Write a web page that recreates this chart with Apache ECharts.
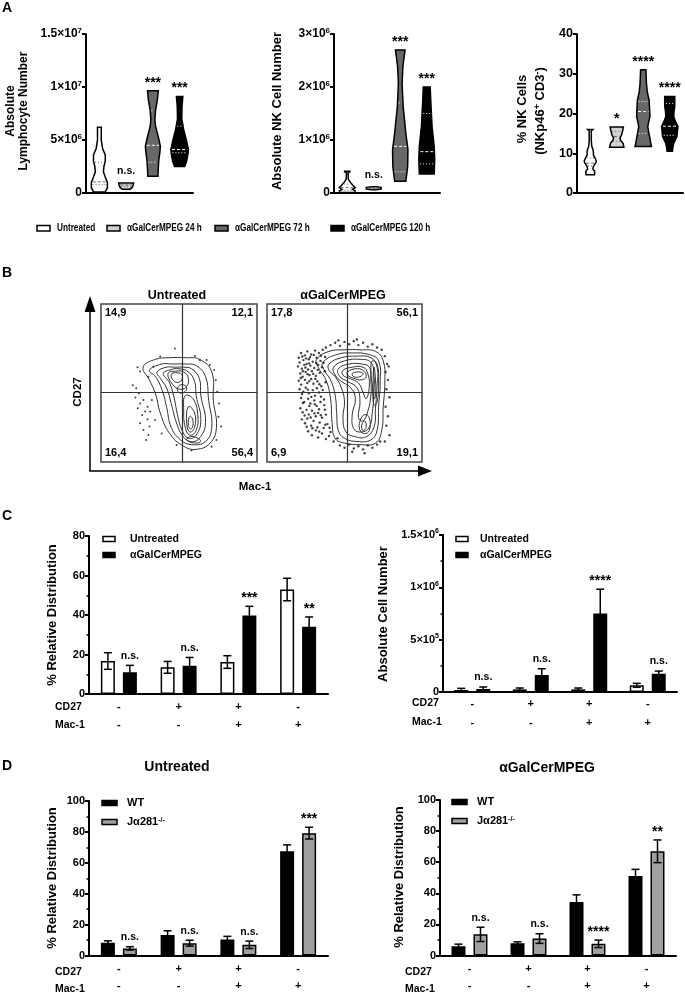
<!DOCTYPE html>
<html><head><meta charset="utf-8">
<script src="https://cdn.jsdelivr.net/npm/echarts@6/dist/echarts.min.js"></script>
<style>html,body{margin:0;padding:0;background:#fff}#c{width:685px;height:994px}</style>
</head><body><div id="c"></div>
<script>
const FONT = "'Liberation Sans', Arial, sans-serif";

// ================= DATA =================
// ---- Panel A (violins): profile = [value, half-width as fraction of category band]
const groupsA = ['Untreated', 'αGalCerMPEG 24 h', 'αGalCerMPEG 72 h', 'αGalCerMPEG 120 h'];
const lymphProfiles = [
  [[0.1e6,0.22],[0.5e6,0.3],[1.0e6,0.3],[1.5e6,0.22],[2.0e6,0.15],[2.5e6,0.17],[3.0e6,0.22],[3.6e6,0.22],[4.2e6,0.12],[5.0e6,0.07],[6.2e6,0.07]],
  [[0.35e6,0.14],[0.5e6,0.22],[0.7e6,0.26],[0.95e6,0.28]],
  [[1.57e6,0.19],[2.2e6,0.2],[3.1e6,0.22],[3.8e6,0.26],[4.4e6,0.28],[5.0e6,0.23],[5.6e6,0.17],[6.3e6,0.1],[6.9e6,0.075],[7.8e6,0.1],[8.8e6,0.17],[9.65e6,0.2]],
  [[2.5e6,0.19],[3.0e6,0.26],[3.5e6,0.3],[4.1e6,0.33],[5.0e6,0.25],[6.0e6,0.15],[7.0e6,0.08],[8.2e6,0.09],[9.1e6,0.12]]
];
const lymphQuart = [[0.8e6,1.05e6,2.9e6],[0.6e6,0.75e6,0.85e6],[2.9e6,4.5e6,7.8e6],[3.8e6,4.1e6,6.3e6]];
const sigLymph = ['', 'n.s.', '***', '***'];

const nkProfiles = [
  [[0.01e6,0.28],[0.04e6,0.3],[0.07e6,0.2],[0.1e6,0.3],[0.14e6,0.22],[0.2e6,0.12],[0.26e6,0.04],[0.38e6,0.03],[0.40e6,0.1],[0.41e6,0.1]],
  [[0.06e6,0.08],[0.075e6,0.28],[0.105e6,0.28],[0.12e6,0.08]],
  [[0.22e6,0.21],[0.5e6,0.28],[0.82e6,0.29],[1.13e6,0.21],[1.63e6,0.11],[2.07e6,0.07],[2.39e6,0.1],[2.7e6,0.18]],
  [[0.36e6,0.28],[0.63e6,0.3],[0.88e6,0.28],[1.26e6,0.2],[1.76e6,0.15],[2.0e6,0.13]]
];
const nkQuart = [[0.05e6,0.1e6,0.17e6],[0.08e6,0.09e6,0.1e6],[0.4e6,0.88e6,1.7e6],[0.55e6,0.78e6,1.5e6]];
const sigNK = ['', 'n.s.', '***', '***'];

const pctProfiles = [
  [[4.6,0.16],[5.4,0.17],[6.0,0.1],[6.7,0.12],[7.5,0.2],[8.0,0.23],[8.8,0.18],[9.5,0.12],[10.3,0.12],[11,0.1],[11.7,0.06],[13,0.04],[15.6,0.04],[16,0.1]],
  [[11.5,0.27],[12.5,0.24],[13.2,0.15],[13.8,0.12],[14.6,0.18],[15.6,0.22],[16.6,0.25]],
  [[11.7,0.31],[13,0.27],[14.2,0.24],[15.5,0.2],[16.7,0.17],[18,0.21],[19.2,0.25],[21,0.24],[23.4,0.22],[25.5,0.15],[27.6,0.12],[31,0.1]],
  [[10.5,0.1],[11.5,0.12],[12.5,0.15],[14.2,0.27],[16.7,0.31],[18,0.22],[19.2,0.15],[20.5,0.16],[21.8,0.19],[24.3,0.19]]
];
const pctQuart = [[6.8,7.5,8.8],[13,14.2,15.5],[15,20.5,23],[14.5,16.8,22.5]];
const sigPct = ['', '*', '****', '****'];

// ---- Panel B (flow cytometry, % of plot range) ----
const quadUnt = ['14,9', '12,1', '16,4', '56,4'];
const quadGal = ['17,8', '56,1', '6,9', '19,1'];
const gateB = [52, 44];
const contoursUnt = [
  [[27,60],[35,65],[44,66],[54,66],[63,65],[71,57],[72,39],[74,22],[70,12],[61,8],[53,10],[44,18],[38,31],[35,43],[31,52]],
  [[31,58],[39,62],[46,62],[55,62],[61,61],[67,54],[69,39],[71,22],[67,13],[58,11],[51,14],[45,22],[42,35],[39,46],[35,54]],
  [[36,57],[42,60],[47,60],[53,60],[58,59],[63,53],[64,42],[67,25],[63,15],[57,13],[52,17],[48,26],[45,37],[42,47],[38,53]],
  [[40,56],[45,58.5],[50,59],[56,57],[60,51],[61,42],[64,27],[61,17],[56,15],[52,20],[49,30],[47,40],[44,50]],
  [[43,56],[48,57.5],[53,57],[56,53],[55,48],[51,46],[46,49]],
  [[45,55.5],[49,56.5],[52,55],[51,51],[47,51]],
  [[54,42],[59,40],[62,30],[61,20],[57,17],[54,22],[53,33]],
  [[56,35],[60,31],[60,22],[57,19],[55,24]],
  [[57,29],[59,26],[58,21],[56,23]],
  [[55,14],[60,12],[64,13],[61,15.5],[57,16]],
  [[50,44],[53,44],[55,47],[52,49],[49,47]]
];
const dotsUnt = [
  [47.4,71.9],[37.9,66.7],[60.2,67.1],[67.7,64.6],[23.4,59.9],[25.1,57.2],[20.4,48.5],[22.6,46.6],[24.3,43.5],[22.1,40.9],
  [27.2,39.2],[25.1,37.1],[23.6,34.0],[28.3,31.9],[26.4,29.7],[29.8,27.0],[25.1,24.5],[31.1,22.4],[27.2,20.3],[30.4,17.1],
  [28.9,13.9],[31.5,31.9],[29.8,35.0],[32.6,39.2],[72.6,58.2],[73.6,51.9],[74.5,44.5],[75.7,37.1],[77.0,22.4],[75.3,28.7],
  [74.0,13.9],[70.9,9.7],[58.1,7.2],[48.5,10.8],[38.9,18.1],[34.7,26.6],[33.6,60.3],[30.4,54.0],[69.8,61.4],[63.4,64.6]
];
const contoursGal = [
  [[32,65],[40,70],[50,71],[60,71],[70,70],[75,64],[76,50],[75,35],[74,20],[70,12],[60,11],[50,12],[44,15],[42,25],[41,40],[38,52],[33,60]],
  [[36,63],[45,68],[55,69],[66,68],[72,64],[73,50],[72,35],[71,20],[67,14],[58,13],[50,15],[46,20],[45,30],[44,42],[41,52],[37,58]],
  [[40,62],[48,66],[58,67],[67,66],[71,60],[71,48],[70,34],[69,22],[64,16],[57,16],[51,19],[49,28],[50,38],[48,47],[44,54],[40,58]],
  [[43,60],[50,64],[60,65],[67,63],[69,55],[69,44],[68,32],[66,22],[61,19],[56,21],[55,30],[57,40],[54,47],[48,51],[44,55]],
  [[46,59],[53,62],[61,62],[66,60],[67,52],[67,42],[65,32],[62,26],[59,28],[60,38],[58,47],[52,51],[47,54]],
  [[49,58],[55,60],[62,60],[65,56],[66,48],[64,40],[62,44],[59,50],[53,53],[49,55]],
  [[52,57],[57,59],[62,58],[64,54],[61,52],[56,53],[52,55]],
  [[55,56],[59,57],[62,56],[60,54],[56,54]],
  [[68,64],[71,62],[72,50],[71,38],[69,36],[68,48],[67,58]],
  [[69,60],[70,52],[70,42],[69,40],[68.5,50]],
  [[63,30],[66,28],[66,20],[63,18],[60,20],[60,26]],
  [[63,26],[64,22],[62,20],[61,23]]
];
const dotsGal = [
  [20.5,66],[22,69],[24.5,67.5],[26,70],[28.5,68],[31,70.5],[33.5,69],[36,71],[21,63],[23.5,64.5],[25.5,62],[27,65],[29.5,63.5],[32,66],[34.5,64],
  [20,60.5],[22.5,59],[24,61.5],[26.5,58.5],[28,61],[30.5,59.5],[33,61.5],[35.5,60],[21.5,56],[23,54],[25,57],[27.5,55],[29,57.5],[31.5,54.5],[34,56.5],
  [20.5,51.5],[22,49],[24.5,52],[26,50],[28.5,52.5],[30,49.5],[32.5,51],[35,48],[21,46],[23.5,44.5],[25,47],[27,43.5],[29.5,45.5],[31,42],[33.5,44],[36,45.5],
  [22,40.5],[24,38],[26.5,40],[28,37],[30.5,39],[32,35.5],[34.5,38],[37,36],[21.5,34],[23,31.5],[25.5,33],[27,30],[29,32.5],[31.5,29],[33,31],[35.5,28],[38,30],
  [22.5,27],[24.5,24.5],[26,27.5],[28.5,23],[30,26],[32.5,22],[34,25],[36.5,21.5],[39,24],[41,19],[26.5,19.5],[29,17],[31.5,20],[33,15.5],[35.5,18],[38,14.5],[40,16.5],[43,13],[45.5,15],
  [38,72.5],[41,74],[44,75.5],[47,73.5],[50,76],[53,74.5],[56,76.5],[59,74],[62,75.5],[65,73],[68,74.5],[71,72.5],[74,71],[46,77],[58,77.5],
  [76,67],[77.5,62],[76.5,57],[78,52],[77,46],[79,41],[76.5,35],[78,29],[77,23],[79,17],[76,13],[78.5,60.5],
  [47,10.5],[50,9],[53,11],[56,8.5],[59,10],[62,8],[65,10.5],[68,9],[71,11],[73,13],[55,6.5],[63,5.5],
  [22.8,66.8],[25.2,65.6],[27.8,66.4],[30.2,67.8],[34.8,67.2],[37.5,66.5],[24.8,59.8],[27.2,62.4],[31.8,62.7],[36.5,62.8],
  [23.2,57.4],[26.2,55.6],[29.8,55.8],[32.7,58.3],[37.2,57.5],[21.8,53.2],[27.3,51.2],[31.2,52.6],[33.8,49.2],[37.8,50.5],
  [22.6,43],[26.3,45.8],[28.6,41.2],[32.2,46.7],[34.8,41.3],[23.2,37.3],[27.3,35.4],[30.8,36.6],[33.6,33.4],[36.8,39.6],
  [24.3,29.4],[28.2,28.2],[30.6,30.8],[34.7,29.6],[37.3,33.1],[25.6,22.3],[29.3,21.4],[33.7,19.2],[37.6,23.6],[40.4,21.7]
];

// ---- Panels C & D (bars) ----
const cd27Signs = ['-', '+', '+', '-'];
const mac1Signs = ['-', '-', '+', '+'];
const catsCD = cd27Signs.map((s, i) => 'CD27' + s + ' Mac-1' + mac1Signs[i]);

const cPctUnt = [16.7, 13.5, 16.2, 52.9];
const cPctUntSD = [4.2, 3.0, 3.2, 5.7];
const cPctGal = [11, 14.3, 39.7, 34];
const cPctGalSD = [3.5, 4.2, 4.7, 5];
const sigCPct = ['n.s.', 'n.s.', '***', '**'];

const cAbsUnt = [19000, 25000, 25000, 64000];
const cAbsUntSD = [16000, 13000, 13000, 19000];
const cAbsGal = [29000, 162000, 750000, 175000];
const cAbsGalSD = [19000, 60000, 232000, 25000];
const sigCAbs = ['n.s.', 'n.s.', '****', 'n.s.'];

const dUntWT = [8.2, 13.3, 10.3, 67.4];
const dUntWTSD = [1.3, 2.7, 2.1, 4.2];
const dUntJ = [4.6, 8, 6.9, 79.2];
const dUntJSD = [1.1, 1.9, 2.4, 3.8];
const sigDUnt = ['n.s.', 'n.s.', 'n.s.', '***'];

const dGalWT = [5.9, 7.8, 34.4, 51.2];
const dGalWTSD = [1.4, 1.0, 4.6, 4.2];
const dGalJ = [13.6, 10.9, 7.5, 67];
const dGalJSD = [4.6, 3.1, 2.4, 7.3];
const sigDGal = ['n.s.', 'n.s.', '****', '**'];

// ================= STYLE / LAYOUT =================
const fillsA = ['#ffffff', '#d2d2d2', '#686868', '#000000'];
const grids = [
  {left: 86, top: 34, width: 107, height: 159},
  {left: 334, top: 34, width: 106, height: 159},
  {left: 577, top: 34, width: 106, height: 159},
  {left: 101, top: 304, width: 156, height: 158, show: true, borderColor: '#444', borderWidth: 1.5},
  {left: 267, top: 304, width: 155, height: 158, show: true, borderColor: '#444', borderWidth: 1.5},
  {left: 89, top: 536, width: 239, height: 158},
  {left: 443, top: 535, width: 234, height: 157},
  {left: 89, top: 801, width: 239, height: 158},
  {left: 440, top: 800, width: 236, height: 159}
];

function supRich(fs) {
  return {sup: {fontSize: Math.round(fs * 0.65), fontWeight: 'bold', fontFamily: FONT, color: '#000', verticalAlign: 'top', lineHeight: 8}};
}
function sci(v) {
  if (v === 0) return '0';
  const e = Math.floor(Math.log10(v) + 1e-9);
  const m = Math.round(v / Math.pow(10, e) * 10) / 10;
  return m + '×10{sup|' + e + '}';
}
const axLine = {show: true, lineStyle: {color: '#000', width: 2}};
function yVal(g, max, interval, fmt, fs, minor) {
  return {type: 'value', gridIndex: g, min: 0, max, interval,
    axisLine: axLine,
    axisTick: {show: true, length: 4, lineStyle: {width: 2, color: '#000'}},
    minorTick: {show: !!minor, splitNumber: 2, length: 2.5, lineStyle: {width: 1.5, color: '#000'}},
    splitLine: {show: false}, minorSplitLine: {show: false},
    axisLabel: {fontFamily: FONT, fontWeight: 'bold', fontSize: fs, color: '#000', margin: 4, lineHeight: 14, formatter: fmt, rich: supRich(fs)}};
}
function xCatA(g) {
  return {type: 'category', gridIndex: g, data: groupsA, axisLine: axLine, axisTick: {show: false}, axisLabel: {show: false}};
}
function xCatBar(g, margin, lh) {
  return {type: 'category', gridIndex: g, data: catsCD, axisLine: axLine, axisTick: {show: false},
    axisLabel: {fontFamily: FONT, fontWeight: 'bold', fontSize: 11, color: '#000', margin, lineHeight: lh,
      formatter: (v, i) => cd27Signs[i] + '\n' + mac1Signs[i]}};
}
function hidden(g) { return {type: 'value', gridIndex: g, min: 0, max: 100, show: false}; }

const xAxes = [xCatA(0), xCatA(1), xCatA(2), hidden(3), hidden(4),
  xCatBar(5, 4, 18), xCatBar(6, 2, 19), xCatBar(7, 4.5, 17), xCatBar(8, 4.5, 17)];
const yAxes = [
  yVal(0, 1.5e7, 5e6, sci, 12), yVal(1, 3e6, 1e6, sci, 12), yVal(2, 40, 10, null, 12.5),
  hidden(3), hidden(4),
  yVal(5, 80, 20, null, 11, true), yVal(6, 1.5e6, 5e5, sci, 11, true),
  yVal(7, 100, 20, null, 11, true), yVal(8, 100, 20, null, 11, true)
];

function widthAt(prof, v) {
  if (v <= prof[0][0]) return prof[0][1];
  for (let k = 1; k < prof.length; k++) {
    if (v <= prof[k][0]) {
      const t = (v - prof[k-1][0]) / (prof[k][0] - prof[k-1][0]);
      return prof[k-1][1] + t * (prof[k][1] - prof[k-1][1]);
    }
  }
  return prof[prof.length-1][1];
}

function violinSeries(ax, profiles, quarts, sigs) {
  return {type: 'custom', xAxisIndex: ax, yAxisIndex: ax, silent: true,
    data: profiles.map((p, i) => [i, p[p.length-1][0]]),
    renderItem(params, api) {
      const i = api.value(0);
      const prof = profiles[i];
      const band = api.size([1, 0])[0];
      const cx = api.coord([i, 0])[0];
      const right = prof.map(([v, w]) => [cx + w * band, api.coord([i, v])[1]]);
      const left = prof.slice().reverse().map(([v, w]) => [cx - w * band, api.coord([i, v])[1]]);
      const children = [{type: 'polygon', shape: {points: right.concat(left)},
        style: {fill: fillsA[i], stroke: '#000', lineWidth: 1.5}}];
      const col = i >= 2 ? '#ffffff' : '#666666';
      quarts[i].forEach((q, k) => {
        const w = widthAt(prof, q) * band - 1.2;
        const y = api.coord([i, q])[1];
        children.push({type: 'line', shape: {x1: cx - w, y1: y, x2: cx + w, y2: y},
          style: {stroke: col, lineWidth: 1, lineDash: k === 1 ? [3, 2] : [1, 2]}});
      });
      if (sigs[i]) {
        const yT = api.coord([i, prof[prof.length-1][0]])[1];
        const star = sigs[i][0] === '*';
        children.push({type: 'text', x: cx, y: yT - (star ? 1 : 6),
          style: {text: sigs[i], fill: '#000', fontFamily: FONT, fontWeight: 'bold', fontSize: star ? 14 : 10.5, align: 'center', verticalAlign: 'bottom'}});
      }
      return {type: 'group', children};
    }};
}

function barSeries(ax, name, vals, fill) {
  return {type: 'bar', name, xAxisIndex: ax, yAxisIndex: ax, data: vals, barWidth: 14, barGap: '57%', silent: true,
    itemStyle: {color: fill, borderColor: '#000', borderWidth: 1.5}};
}
function errSeries(ax, means, sds, offset, sigs) {
  return {type: 'custom', xAxisIndex: ax, yAxisIndex: ax, z: 5, silent: true,
    data: means.map((m, i) => [i, m, sds[i]]),
    renderItem(params, api) {
      const i = api.value(0), m = api.value(1), s = api.value(2);
      const x = api.coord([i, m])[0] + offset;
      const yT = api.coord([i, m + s])[1], yB = api.coord([i, Math.max(0, m - s)])[1];
      const st = {stroke: '#000', lineWidth: 1.5};
      const ch = [
        {type: 'line', shape: {x1: x, y1: yT, x2: x, y2: yB}, style: st},
        {type: 'line', shape: {x1: x - 4, y1: yT, x2: x + 4, y2: yT}, style: st},
        {type: 'line', shape: {x1: x - 4, y1: yB, x2: x + 4, y2: yB}, style: st}
      ];
      if (sigs && sigs[i]) {
        const star = sigs[i][0] === '*';
        ch.push({type: 'text', x, y: yT - (star ? 1 : 4),
          style: {text: sigs[i], fill: '#000', fontFamily: FONT, fontWeight: 'bold', fontSize: star ? 14 : 10.5, align: 'center', verticalAlign: 'bottom'}});
      }
      return {type: 'group', children: ch};
    }};
}

function contourSeries(ax, contours) {
  return {type: 'custom', xAxisIndex: ax, yAxisIndex: ax, silent: true,
    data: contours.map((c, i) => [i, 0]),
    renderItem(params, api) {
      const pts = contours[api.value(0)].map(p => api.coord(p));
      return {type: 'polygon', shape: {points: pts, smooth: 0.45}, style: {fill: 'none', stroke: '#333', lineWidth: 1}};
    }};
}
function dotSeries(ax, dots, size) {
  return {type: 'scatter', xAxisIndex: ax, yAxisIndex: ax, data: dots, symbolSize: size, silent: true,
    itemStyle: {color: '#111'},
    markLine: {silent: true, symbol: 'none', label: {show: false}, animation: false,
      lineStyle: {color: '#333', width: 1.2, type: 'solid'},
      data: [{xAxis: gateB[0]}, {yAxis: gateB[1]}]}};
}

const series = [
  violinSeries(0, lymphProfiles, lymphQuart, sigLymph),
  violinSeries(1, nkProfiles, nkQuart, sigNK),
  violinSeries(2, pctProfiles, pctQuart, sigPct),
  contourSeries(3, contoursUnt), dotSeries(3, dotsUnt, 2),
  contourSeries(4, contoursGal), dotSeries(4, dotsGal, 2.4),
  barSeries(5, 'Untreated', cPctUnt, '#ffffff'), barSeries(5, 'αGalCerMPEG', cPctGal, '#000000'),
  errSeries(5, cPctUnt, cPctUntSD, -11, null), errSeries(5, cPctGal, cPctGalSD, 11, sigCPct),
  barSeries(6, 'Untreated', cAbsUnt, '#ffffff'), barSeries(6, 'αGalCerMPEG', cAbsGal, '#000000'),
  errSeries(6, cAbsUnt, cAbsUntSD, -11, null), errSeries(6, cAbsGal, cAbsGalSD, 11, sigCAbs),
  barSeries(7, 'WT', dUntWT, '#000000'), barSeries(7, 'Jα281-/-', dUntJ, '#a0a0a0'),
  errSeries(7, dUntWT, dUntWTSD, -11, null), errSeries(7, dUntJ, dUntJSD, 11, sigDUnt),
  barSeries(8, 'WT', dGalWT, '#000000'), barSeries(8, 'Jα281-/-', dGalJ, '#a0a0a0'),
  errSeries(8, dGalWT, dGalWTSD, -11, null), errSeries(8, dGalJ, dGalJSD, 11, sigDGal)
];

// ================= GRAPHIC TEXT / DECOR =================
const R90 = Math.PI / 2;
function T(x, y, text, o = {}) {
  return {type: 'text', x, y, rotation: o.rot || 0, scaleX: o.sx || 1, silent: true,
    style: {text, fill: '#000', fontFamily: FONT, fontWeight: 'bold', fontSize: o.fs || 12,
      align: o.al || 'center', verticalAlign: 'middle', rich: o.rich}};
}
function RECT(x, y, w, h, fill) {
  return {type: 'rect', silent: true, shape: {x, y, width: w, height: h}, style: {fill, stroke: '#000', lineWidth: 1.5}};
}
const sup11 = {sup: {fontSize: 7, fontWeight: 'bold', fontFamily: FONT, fill: '#000', color: '#000', verticalAlign: 'top', lineHeight: 7}};
const sup13 = {sup: {fontSize: 9, fontWeight: 'bold', fontFamily: FONT, fill: '#000', color: '#000', verticalAlign: 'top', lineHeight: 9}};

function quadTexts(g, labels) {
  const L = g.left + 4, Rr = g.left + g.width - 4, Tp = g.top + 9, Bt = g.top + g.height - 9;
  return [T(L, Tp, labels[0], {al: 'left', fs: 11}), T(Rr, Tp, labels[1], {al: 'right', fs: 11}),
          T(L, Bt, labels[2], {al: 'left', fs: 11}), T(Rr, Bt, labels[3], {al: 'right', fs: 11})];
}

const legendXA = [37, 107, 215, 331];
const legendA = legendXA.flatMap((x, i) => [
  RECT(x, 225.5, 13, 5.5, fillsA[i]),
  T(x + 20, 228.5, groupsA[i], {al: 'left', fs: 10, sx: 0.82})
]);

const graphic = [
  T(2, 8, 'A', {al: 'left', fs: 14}), T(2, 273, 'B', {al: 'left', fs: 14}),
  T(2, 516, 'C', {al: 'left', fs: 14}), T(2, 766, 'D', {al: 'left', fs: 14}),
  // Panel A labels
  T(11, 111, 'Absolute', {rot: R90, fs: 12}), T(24, 111, 'Lymphocyte Number', {rot: R90, fs: 12}),
  T(277, 111, 'Absolute NK Cell Number', {rot: R90, fs: 13}),
  T(522, 109, '% NK Cells', {rot: R90, fs: 13}),
  T(540, 111, '(NKp46{sup|+} CD3{sup|-})', {rot: R90, fs: 13, rich: sup13}),
  ...legendA,
  // Panel B
  T(177, 296, 'Untreated', {fs: 12.5}), T(343, 296, 'αGalCerMPEG', {fs: 12.5}),
  ...quadTexts(grids[3], quadUnt), ...quadTexts(grids[4], quadGal),
  {type: 'line', silent: true, shape: {x1: 90, y1: 471, x2: 90, y2: 308}, style: {stroke: '#000', lineWidth: 1.5}},
  {type: 'polygon', silent: true, shape: {points: [[90, 296], [84.5, 312], [95.5, 312]]}, style: {fill: '#000'}},
  {type: 'line', silent: true, shape: {x1: 89.25, y1: 471, x2: 422, y2: 471}, style: {stroke: '#000', lineWidth: 1.5}},
  {type: 'polygon', silent: true, shape: {points: [[432, 471], [418, 465.5], [418, 476.5]]}, style: {fill: '#000'}},
  T(78, 392, 'CD27', {rot: R90, fs: 11.5}), T(255, 487, 'Mac-1', {fs: 11.5}),
  // Panel C
  T(52, 615, '% Relative Distribution', {rot: R90, fs: 13}),
  T(383, 614, 'Absolute Cell Number', {rot: R90, fs: 13}),
  T(55, 707, 'CD27', {al: 'left', fs: 10.5}), T(55, 725, 'Mac-1', {al: 'left', fs: 10.5}),
  T(412, 703, 'CD27', {al: 'left', fs: 10.5}), T(412, 722, 'Mac-1', {al: 'left', fs: 10.5}),
  RECT(103, 536.5, 12, 5, '#ffffff'), T(130, 539, 'Untreated', {al: 'left', fs: 10.5}),
  RECT(103, 552.5, 12, 5, '#000000'), T(130, 555, 'αGalCerMPEG', {al: 'left', fs: 10.5}),
  RECT(456, 536.5, 12, 5, '#ffffff'), T(480, 539, 'Untreated', {al: 'left', fs: 10.5}),
  RECT(456, 552.5, 12, 5, '#000000'), T(480, 555, 'αGalCerMPEG', {al: 'left', fs: 10.5}),
  // Panel D
  T(177, 767, 'Untreated', {fs: 14}), T(547, 768, 'αGalCerMPEG', {fs: 14}),
  T(52, 878, '% Relative Distribution', {rot: R90, fs: 13}),
  T(399, 877, '% Relative Distribution', {rot: R90, fs: 13}),
  T(55, 972, 'CD27', {al: 'left', fs: 10.5}), T(55, 989, 'Mac-1', {al: 'left', fs: 10.5}),
  T(405, 972, 'CD27', {al: 'left', fs: 10.5}), T(405, 989, 'Mac-1', {al: 'left', fs: 10.5}),
  RECT(102, 800.5, 15, 5, '#000000'), T(127, 803, 'WT', {al: 'left', fs: 11}),
  RECT(102, 819.5, 15, 5, '#a0a0a0'), T(127, 822, 'Jα281{sup|-/-}', {al: 'left', fs: 11, rich: sup11}),
  RECT(452, 799.5, 15, 5, '#000000'), T(477, 802, 'WT', {al: 'left', fs: 11}),
  RECT(452, 818.5, 15, 5, '#a0a0a0'), T(477, 821, 'Jα281{sup|-/-}', {al: 'left', fs: 11, rich: sup11})
];

const chart = echarts.init(document.getElementById('c'));
chart.setOption({
  animation: false,
  backgroundColor: '#ffffff',
  textStyle: {fontFamily: FONT, fontWeight: 'bold', color: '#000'},
  grid: grids, xAxis: xAxes, yAxis: yAxes, series, graphic
});
</script></body></html>
